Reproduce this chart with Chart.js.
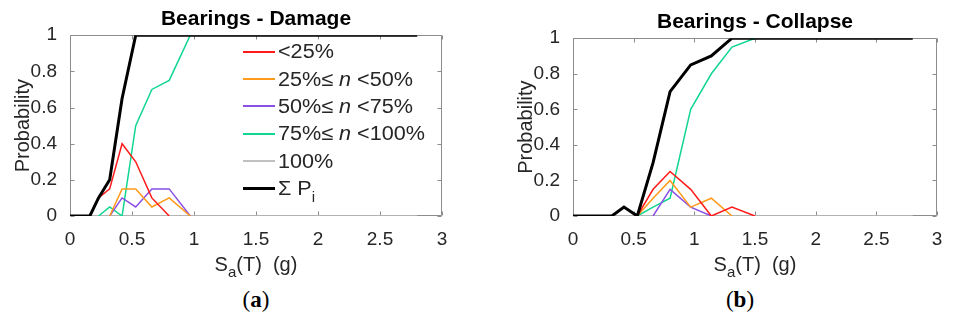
<!DOCTYPE html>
<html>
<head>
<meta charset="utf-8">
<script src="https://cdn.jsdelivr.net/npm/chart.js@4.4.0/dist/chart.umd.min.js"></script>
<style>
  body { margin: 0; background: #fff; }
  #wrap { position: relative; width: 955px; height: 320px; font-family: 'Liberation Sans', Arial, sans-serif; color: #262626; overflow: hidden; }
  canvas { position: absolute; top: 0; }
  .xlab { position: absolute; top: 252px; width: 200px; text-align: center; font-size: 20px; line-height: 24px; }
  .xlab sub { font-size: 15px; vertical-align: -6px; line-height: 0; }
  .panel { position: absolute; top: 287px; width: 60px; text-align: center; font: 23px 'Liberation Serif', 'DejaVu Serif', serif; color: #000; }
  #legend { position: absolute; left: 243px; top: 38px; font-size: 20px; }
  .row { height: 27.4px; display: flex; align-items: center; white-space: nowrap; }
  .swatch { width: 32px; margin-right: 3px; flex: none; }
  .label { display: inline-block; transform: scaleX(1.08); transform-origin: left center; }
  .row sub { font-size: 14px; vertical-align: -7px; line-height: 0; }
</style>
</head>
<body>
<div id="wrap">
  <canvas id="damageChart" width="480" height="280" style="left:0"></canvas>
  <canvas id="collapseChart" width="475" height="280" style="left:480px"></canvas>
  <div class="xlab" style="left:156px">S<sub>a</sub>(T)&nbsp;&nbsp;(g)</div>
  <div class="xlab" style="left:655px">S<sub>a</sub>(T)&nbsp;&nbsp;(g)</div>
  <div class="panel" style="left:226px">(<b>a</b>)</div>
  <div class="panel" style="left:710px">(<b>b</b>)</div>
  <div id="legend"></div>
</div>
<script>
// spectral acceleration levels (g) shared by both panels
const saLevels = [0, 0.16, 0.23, 0.32, 0.42, 0.53, 0.66, 0.8, 0.97, 1.14, 1.31, 1.5, 2.8];
const xTicks = [0, 0.5, 1, 1.5, 2, 2.5, 3];
const yTicks = [0, 0.2, 0.4, 0.6, 0.8, 1];

const seriesNames = ['<25%', '25%\u2264 n <50%', '50%\u2264 n <75%', '75%\u2264 n <100%', '100%', '\u03A3 P_i'];
const seriesColors = ['#ff1a1a', '#ff9a1a', '#8a4fe3', '#10d690', '#c0c0c0', '#000000'];
const seriesWidths = [1.5, 1.5, 1.5, 1.5, 1.5, 3];

// (a) Bearings - Damage
const damageLt25    = [null, 0, 0.1, 0.15, 0.4, 0.3, 0.1, 0, null, null, null, null, null];
const damage25to50  = [null, null, null, 0, 0.15, 0.15, 0.05, 0.1, 0, null, null, null, null];
const damage50to75  = [null, null, null, 0, 0.1, 0.05, 0.15, 0.15, 0, null, null, null, null];
const damage75to100 = [null, null, 0, 0.05, 0, 0.5, 0.7, 0.75, 1, null, null, null, null];
const damage100     = [0, 0, 0, 0, 0, 0, 0, 0, 0, 0, 0, 0, 0];
const damageSum     = [0, 0, 0.1, 0.2, 0.65, 1, 1, 1, 1, 1, 1, 1, 1];

// (b) Bearings - Collapse
const collapseLt25    = [null, null, null, null, null, 0, 0.15, 0.25, 0.15, 0, 0.05, 0, null];
const collapse25to50  = [null, null, null, null, null, 0, 0.1, 0.2, 0.05, 0.1, 0, null, null];
const collapse50to75  = [null, null, null, null, null, null, 0, 0.15, 0.05, 0, null, null, null];
const collapse75to100 = [null, null, null, null, null, 0, 0.05, 0.1, 0.6, 0.8, 0.95, 1, null];
const collapse100     = [0, 0, 0, 0, 0, 0, 0, 0, 0, 0, 0, 0, 0];
const collapseSum     = [0, 0, 0, 0, 0.05, 0, 0.3, 0.7, 0.85, 0.9, 1, 1, 1];

const fontFamily = "'Liberation Sans', Arial, sans-serif";

// MATLAB style box with inward ticks on all four sides
const matlabBox = {
    id: 'matlabBox',
    beforeDatasetsDraw: function (chart) {
        var ctx = chart.ctx;
        var a = chart.chartArea;
        var xs = chart.scales.x, ys = chart.scales.y;
        var L = Math.round(a.left) + 0.5, R = Math.round(a.right) - 0.5;
        var T = Math.round(a.top) + 0.5, B = Math.round(a.bottom) - 0.5;
        ctx.save();
        ctx.strokeStyle = '#8c8c8c';
        ctx.lineWidth = 1;
        ctx.beginPath();
        ctx.rect(L, T, R - L, B - T);
        xTicks.forEach(function (v) {
            var px = Math.round(xs.getPixelForValue(v)) + 0.5;
            ctx.moveTo(px, B); ctx.lineTo(px, B - 4);
            ctx.moveTo(px, T); ctx.lineTo(px, T + 4);
        });
        yTicks.forEach(function (v) {
            var py = Math.round(ys.getPixelForValue(v)) + 0.5;
            ctx.moveTo(L, py); ctx.lineTo(L + 4, py);
            ctx.moveTo(R, py); ctx.lineTo(R - 4, py);
        });
        ctx.stroke();
        ctx.restore();
    }
};

function tickText(v) {
    return String(Math.round(v * 10) / 10);
}

function makeDatasets(seriesList) {
    return seriesList.map(function (values, i) {
        return {
            label: seriesNames[i],
            data: saLevels.map(function (x, k) { return {x: x, y: values[k]}; }),
            borderColor: seriesColors[i],
            backgroundColor: seriesColors[i],
            borderWidth: seriesWidths[i],
            pointRadius: 0,
            tension: 0,
            order: i === 5 ? 0 : 1
        };
    });
}

function makeChart(id, title, seriesList, pad) {
    new Chart(document.getElementById(id).getContext('2d'), {
        type: 'line',
        data: {datasets: makeDatasets(seriesList)},
        options: {
            responsive: false,
            animation: false,
            devicePixelRatio: 1,
            layout: {padding: pad},
            plugins: {
                legend: {display: false},
                tooltip: {enabled: false},
                title: {
                    display: true,
                    text: title,
                    fullSize: false,
                    color: '#000',
                    font: {family: fontFamily, size: 21, weight: 'bold'},
                    padding: {top: 7, bottom: 3}
                }
            },
            scales: {
                x: {
                    type: 'linear',
                    min: 0,
                    max: 3,
                    grid: {display: false},
                    border: {display: false},
                    afterBuildTicks: function (s) { s.ticks = xTicks.map(function (v) { return {value: v}; }); },
                    afterFit: function (s) { s.height = 64; },
                    ticks: {color: '#262626', padding: 4, maxRotation: 0, callback: tickText,
                        font: {family: fontFamily, size: 19}}
                },
                y: {
                    min: 0,
                    max: 1,
                    grid: {display: false},
                    border: {display: false},
                    afterBuildTicks: function (s) { s.ticks = yTicks.map(function (v) { return {value: v}; }); },
                    afterFit: function (s) { s.width = 70; },
                    ticks: {color: '#262626', padding: 5, callback: tickText,
                        font: {family: fontFamily, size: 19}},
                    title: {
                        display: true,
                        text: 'Probability',
                        color: '#262626',
                        font: {family: fontFamily, size: 20},
                        padding: {top: 11, bottom: 0}
                    }
                }
            }
        },
        plugins: [matlabBox]
    });
}

makeChart('damageChart', 'Bearings - Damage',
    [damageLt25, damage25to50, damage50to75, damage75to100, damage100, damageSum],
    {left: 0, right: 38, top: 0, bottom: 0});
makeChart('collapseChart', 'Bearings - Collapse',
    [collapseLt25, collapse25to50, collapse50to75, collapse75to100, collapse100, collapseSum],
    {left: 23, right: 18, top: 3, bottom: 0});

// legend for panel (a)
function legendHtml(name) {
    return name.replace(/</g, '&lt;').replace(' n ', ' <i>n</i> ').replace('P_i', 'P<sub>i</sub>');
}
var legend = document.getElementById('legend');
seriesNames.forEach(function (name, i) {
    var row = document.createElement('div');
    row.className = 'row';
    row.innerHTML = '<span class="swatch" style="height:' + (seriesWidths[i] === 3 ? 3 : 2) +
        'px;background:' + seriesColors[i] + '"></span><span class="label">' + legendHtml(name) + '</span>';
    legend.appendChild(row);
});
</script>
</body>
</html>
